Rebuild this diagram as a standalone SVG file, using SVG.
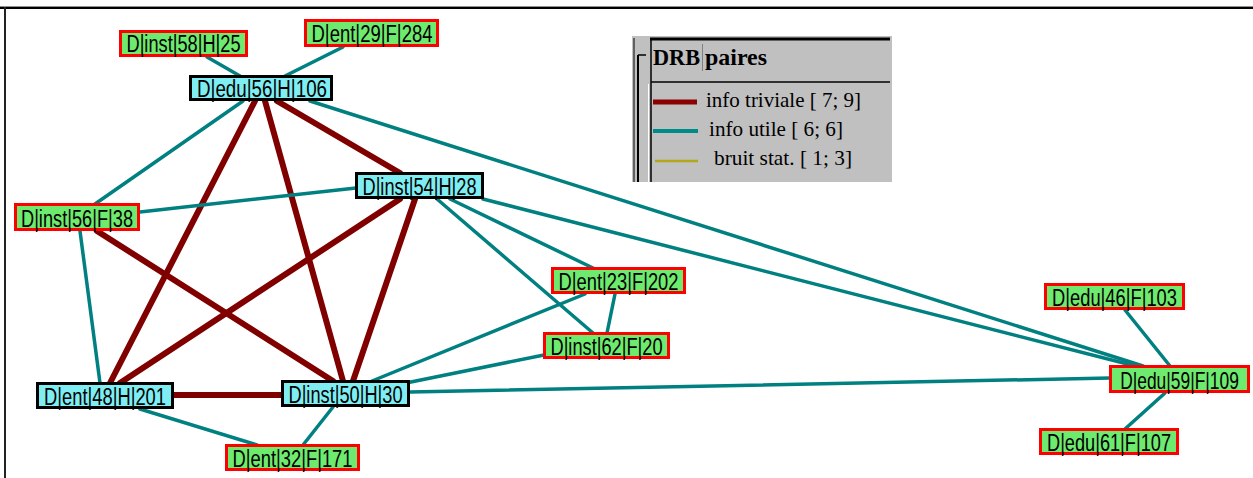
<svg xmlns="http://www.w3.org/2000/svg" width="1253" height="478" viewBox="0 0 1253 478">
<style>
.triv{stroke:#800000;stroke-width:6;stroke-linecap:round;fill:none}
.util{stroke:#008080;stroke-width:3.5;stroke-linecap:round;fill:none}
.nf rect{fill:#6eea6e;stroke:#ff0000;stroke-width:3}
.nh rect{fill:#7eeef2;stroke:#000000;stroke-width:3}
.lbl{font-family:"Liberation Sans",Arial,sans-serif;font-size:23px;fill:#000;text-anchor:middle}
.lg{font-family:"Liberation Serif","Times New Roman",serif;font-size:21px;fill:#000}
.lgb{font-family:"Liberation Serif","Times New Roman",serif;font-size:23px;font-weight:bold;fill:#000}
</style>
<rect x="0" y="0" width="1253" height="478" fill="#ffffff"/>
<g id="frame">
<line x1="0" y1="6.5" x2="1253" y2="6.5" stroke="#909090" stroke-width="1"/>
<line x1="0" y1="8" x2="1253" y2="8" stroke="#000" stroke-width="2"/>
<line x1="5" y1="7" x2="5" y2="478" stroke="#222" stroke-width="2"/>
</g>
<g id="connectors">
<line class="triv" x1="277" y1="101" x2="400" y2="173"/>
<line class="triv" x1="255" y1="101" x2="110" y2="383"/>
<line class="triv" x1="265" y1="101" x2="343" y2="381"/>
<line class="triv" x1="400" y1="199" x2="120" y2="383"/>
<line class="triv" x1="415" y1="199" x2="353" y2="381"/>
<line class="triv" x1="97" y1="231" x2="333" y2="381"/>
<line class="triv" x1="174" y1="395" x2="282" y2="395"/>
<line class="util" x1="207" y1="57" x2="240" y2="76"/>
<line class="util" x1="343" y1="47" x2="285" y2="76"/>
<line class="util" x1="243" y1="101" x2="95" y2="204"/>
<line class="util" x1="310" y1="101" x2="1143" y2="366"/>
<line class="util" x1="140" y1="212" x2="356" y2="188"/>
<line class="util" x1="80" y1="231" x2="100" y2="383"/>
<line class="util" x1="437" y1="199" x2="593" y2="333"/>
<line class="util" x1="450" y1="199" x2="593" y2="268"/>
<line class="util" x1="483" y1="199" x2="1143" y2="368"/>
<line class="util" x1="615" y1="294" x2="607" y2="333"/>
<line class="util" x1="585" y1="294" x2="372" y2="381"/>
<line class="util" x1="544" y1="355" x2="406" y2="383"/>
<line class="util" x1="410" y1="392" x2="1110" y2="378"/>
<line class="util" x1="140" y1="409" x2="257" y2="445"/>
<line class="util" x1="333" y1="407" x2="303" y2="445"/>
<line class="util" x1="1125" y1="310" x2="1170" y2="366"/>
<line class="util" x1="1165" y1="393" x2="1125" y2="429"/>
</g>
<g id="n_inst58" class="nf"><rect x="120.5" y="31.5" width="126" height="24"/><text class="lbl" x="183.5" y="52" textLength="114" lengthAdjust="spacingAndGlyphs">D|inst|58|H|25</text></g>
<g id="n_ent29" class="nf"><rect x="305.5" y="20.5" width="132" height="25"/><text class="lbl" x="372" y="42" textLength="121" lengthAdjust="spacingAndGlyphs">D|ent|29|F|284</text></g>
<g id="n_edu56" class="nh"><rect x="190.5" y="76.5" width="141" height="23"/><text class="lbl" x="262" y="97" textLength="130" lengthAdjust="spacingAndGlyphs">D|edu|56|H|106</text></g>
<g id="n_inst54" class="nh"><rect x="356.5" y="173.5" width="126" height="24"/><text class="lbl" x="419.5" y="194.5" textLength="114" lengthAdjust="spacingAndGlyphs">D|inst|54|H|28</text></g>
<g id="n_inst56" class="nf"><rect x="15.5" y="204.5" width="123" height="25"/><text class="lbl" x="77" y="226.5" textLength="112" lengthAdjust="spacingAndGlyphs">D|inst|56|F|38</text></g>
<g id="n_ent48" class="nh"><rect x="37.5" y="383.5" width="135" height="24"/><text class="lbl" x="105" y="404.5" textLength="122" lengthAdjust="spacingAndGlyphs">D|ent|48|H|201</text></g>
<g id="n_inst50" class="nh"><rect x="282.5" y="381.5" width="126" height="24"/><text class="lbl" x="345.5" y="402.5" textLength="114" lengthAdjust="spacingAndGlyphs">D|inst|50|H|30</text></g>
<g id="n_ent32" class="nf"><rect x="226.5" y="445.5" width="132" height="24"/><text class="lbl" x="292.5" y="466.5" textLength="120" lengthAdjust="spacingAndGlyphs">D|ent|32|F|171</text></g>
<g id="n_ent23" class="nf"><rect x="552.5" y="268.5" width="132" height="24"/><text class="lbl" x="618.5" y="289.5" textLength="120" lengthAdjust="spacingAndGlyphs">D|ent|23|F|202</text></g>
<g id="n_inst62" class="nf"><rect x="544.5" y="333.5" width="124" height="24"/><text class="lbl" x="606.5" y="354.5" textLength="112" lengthAdjust="spacingAndGlyphs">D|inst|62|F|20</text></g>
<g id="n_edu46" class="nf"><rect x="1045.5" y="284.5" width="138" height="24"/><text class="lbl" x="1114.5" y="305.5" textLength="125" lengthAdjust="spacingAndGlyphs">D|edu|46|F|103</text></g>
<g id="n_edu59" class="nf"><rect x="1110.5" y="366.5" width="138" height="25"/><text class="lbl" x="0" y="0" transform="translate(1179.5 388.5) scale(0.757 1)">D|edu|59|F|109</text></g>
<g id="n_edu61" class="nf"><rect x="1040.5" y="429.5" width="137" height="24"/><text class="lbl" x="1109" y="450.5" textLength="124" lengthAdjust="spacingAndGlyphs">D|edu|61|F|107</text></g>
<g id="legend">
<rect x="632" y="36" width="260" height="146" fill="#c0c0c0"/>
<line x1="634" y1="38" x2="634" y2="182" stroke="#404040" stroke-width="1.5"/>
<line x1="638" y1="55" x2="638" y2="182" stroke="#000" stroke-width="2"/>
<line x1="638" y1="55" x2="646" y2="55" stroke="#000" stroke-width="1.5"/>
<line x1="651" y1="39" x2="651" y2="182" stroke="#000" stroke-width="1.5"/>
<line x1="648.5" y1="84" x2="648.5" y2="182" stroke="#ffffff" stroke-width="1"/>
<line x1="650" y1="39" x2="890" y2="39" stroke="#000" stroke-width="3"/>
<line x1="651" y1="82" x2="890" y2="82" stroke="#000" stroke-width="1.5"/>
<line x1="702.5" y1="44" x2="702.5" y2="71" stroke="#808080" stroke-width="1"/>
<text class="lgb" x="653" y="65" textLength="47" lengthAdjust="spacingAndGlyphs">DRB</text>
<text class="lgb" x="705" y="65" textLength="62" lengthAdjust="spacingAndGlyphs">paires</text>
<line x1="653" y1="102" x2="697" y2="102" stroke="#8b0000" stroke-width="5"/>
<line x1="653" y1="131" x2="698" y2="131" stroke="#008b8b" stroke-width="4"/>
<line x1="655" y1="161" x2="698" y2="161" stroke="#b0a818" stroke-width="2.5"/>
<text class="lg" x="706" y="107" textLength="155" lengthAdjust="spacingAndGlyphs">info triviale [ 7; 9]</text>
<text class="lg" x="709" y="136" textLength="134" lengthAdjust="spacingAndGlyphs">info utile [ 6; 6]</text>
<text class="lg" x="714" y="165" textLength="138" lengthAdjust="spacingAndGlyphs">bruit stat. [ 1; 3]</text>
</g>
</svg>
